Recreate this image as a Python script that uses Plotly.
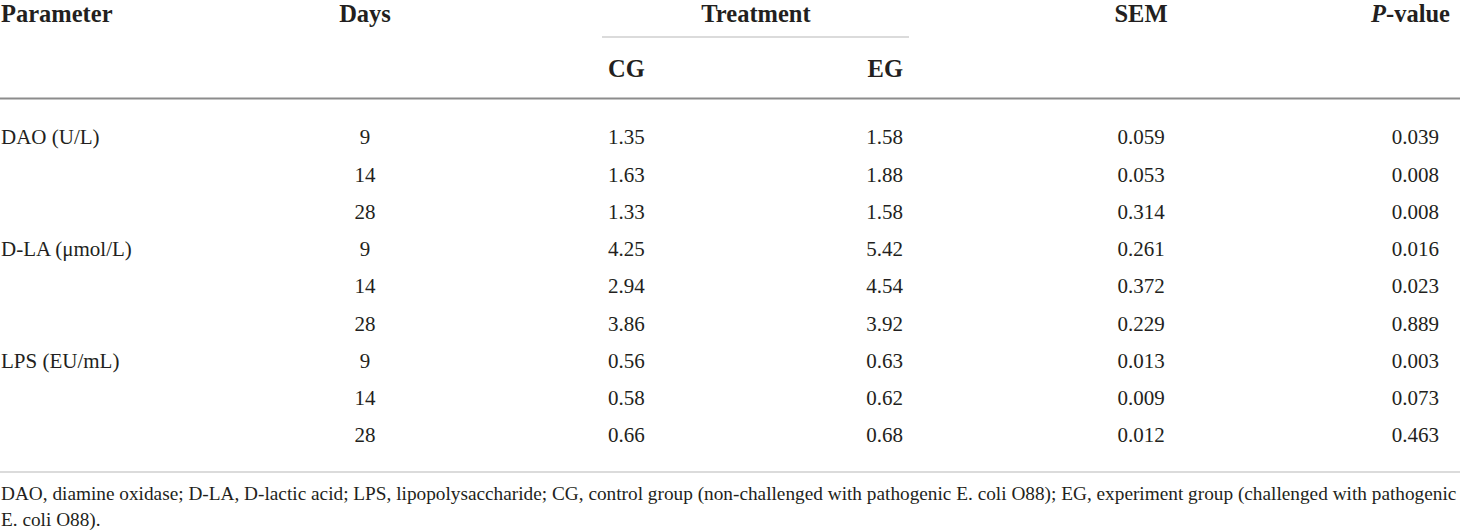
import plotly.graph_objects as go

# ---- data ----
parameters = ["DAO (U/L)", "D-LA (μmol/L)", "LPS (EU/mL)"]
days = [9, 14, 28, 9, 14, 28, 9, 14, 28]
cg = [1.35, 1.63, 1.33, 4.25, 2.94, 3.86, 0.56, 0.58, 0.66]
eg = [1.58, 1.88, 1.58, 5.42, 4.54, 3.92, 0.63, 0.62, 0.68]
sem = [0.059, 0.053, 0.314, 0.261, 0.372, 0.229, 0.013, 0.009, 0.012]
pval = [0.039, 0.008, 0.008, 0.016, 0.023, 0.889, 0.003, 0.073, 0.463]
footnote = ("DAO, diamine oxidase; D-LA, D-lactic acid; LPS, lipopolysaccharide; CG, control group "
            "(non-challenged with pathogenic E. coli O88); EG, experiment group (challenged with pathogenic",
            "E. coli O88).")

# ---- layout constants (pixels) ----
W, H = 1460, 530
FONT = "Liberation Serif, Times New Roman, serif"
COLOR = "#231f20"
ROW0, ROW_H = 139, 37.25
HEAD1_Y, HEAD2_Y = 15.5, 71
X_PARAM, X_DAYS, X_CG, X_EG, X_SEM, X_P = 1, 365, 608, 903, 1141, 1439
X_TREAT = 756
X_PHEAD = 1450
FOOT_Y = [495, 521]
BODY_SIZE, HEAD_SIZE, FOOT_SIZE = 21, 24.5, 19.3

rows_y = [ROW0 + i * ROW_H for i in range(len(days))]
param_y = [rows_y[i * 3] for i in range(len(parameters))]

fig = go.Figure()


def txt(xs, ys, texts, pos, size, bold=False):
    fig.add_trace(go.Scatter(
        x=xs, y=ys, text=[f"<b>{t}</b>" if bold else t for t in texts],
        mode="text", textposition=pos,
        textfont=dict(family=FONT, size=size, color=COLOR),
        hoverinfo="skip", showlegend=False, cliponaxis=False))


# headers
txt([X_PARAM], [HEAD1_Y], ["Parameter"], "middle right", HEAD_SIZE, True)
txt([X_DAYS], [HEAD1_Y], ["Days"], "middle center", HEAD_SIZE, True)
txt([X_TREAT], [HEAD1_Y], ["Treatment"], "middle center", HEAD_SIZE, True)
txt([X_SEM], [HEAD1_Y], ["SEM"], "middle center", HEAD_SIZE, True)
txt([X_PHEAD], [HEAD1_Y], ["<i>P</i>-value"], "middle left", HEAD_SIZE, True)
txt([X_CG], [HEAD2_Y], ["CG"], "middle right", HEAD_SIZE, True)
txt([X_EG], [HEAD2_Y], ["EG"], "middle left", HEAD_SIZE, True)

# body
txt([X_PARAM] * len(parameters), param_y, parameters, "middle right", BODY_SIZE)
txt([X_DAYS] * len(days), rows_y, [str(d) for d in days], "middle center", BODY_SIZE)
txt([X_CG] * len(cg), rows_y, [f"{v:.2f}" for v in cg], "middle right", BODY_SIZE)
txt([X_EG] * len(eg), rows_y, [f"{v:.2f}" for v in eg], "middle left", BODY_SIZE)
txt([X_SEM] * len(sem), rows_y, [f"{v:.3f}" for v in sem], "middle center", BODY_SIZE)
txt([X_P] * len(pval), rows_y, [f"{v:.3f}" for v in pval], "middle left", BODY_SIZE)

# footnote
txt([X_PARAM] * len(footnote), FOOT_Y, list(footnote), "middle right", FOOT_SIZE)

# rules
shapes = [
    dict(type="line", x0=602, x1=909, y0=37, y1=37, line=dict(color="#cfcfcf", width=1.6)),
    dict(type="line", x0=0, x1=W, y0=98.5, y1=98.5, line=dict(color="#8c8c8c", width=2)),
    dict(type="line", x0=0, x1=W, y0=472, y1=472, line=dict(color="#cfcfcf", width=1.6)),
]

fig.update_layout(
    width=W, height=H, margin=dict(l=0, r=0, t=0, b=0),
    paper_bgcolor="white", plot_bgcolor="white",
    xaxis=dict(range=[0, W], visible=False, fixedrange=True),
    yaxis=dict(range=[H, 0], visible=False, fixedrange=True),
    shapes=shapes, showlegend=False,
)

fig.write_html(
    "out.html",
    config={"displayModeBar": False},
    post_script="document.body.style.margin='0';document.body.style.overflow='hidden';",
)
